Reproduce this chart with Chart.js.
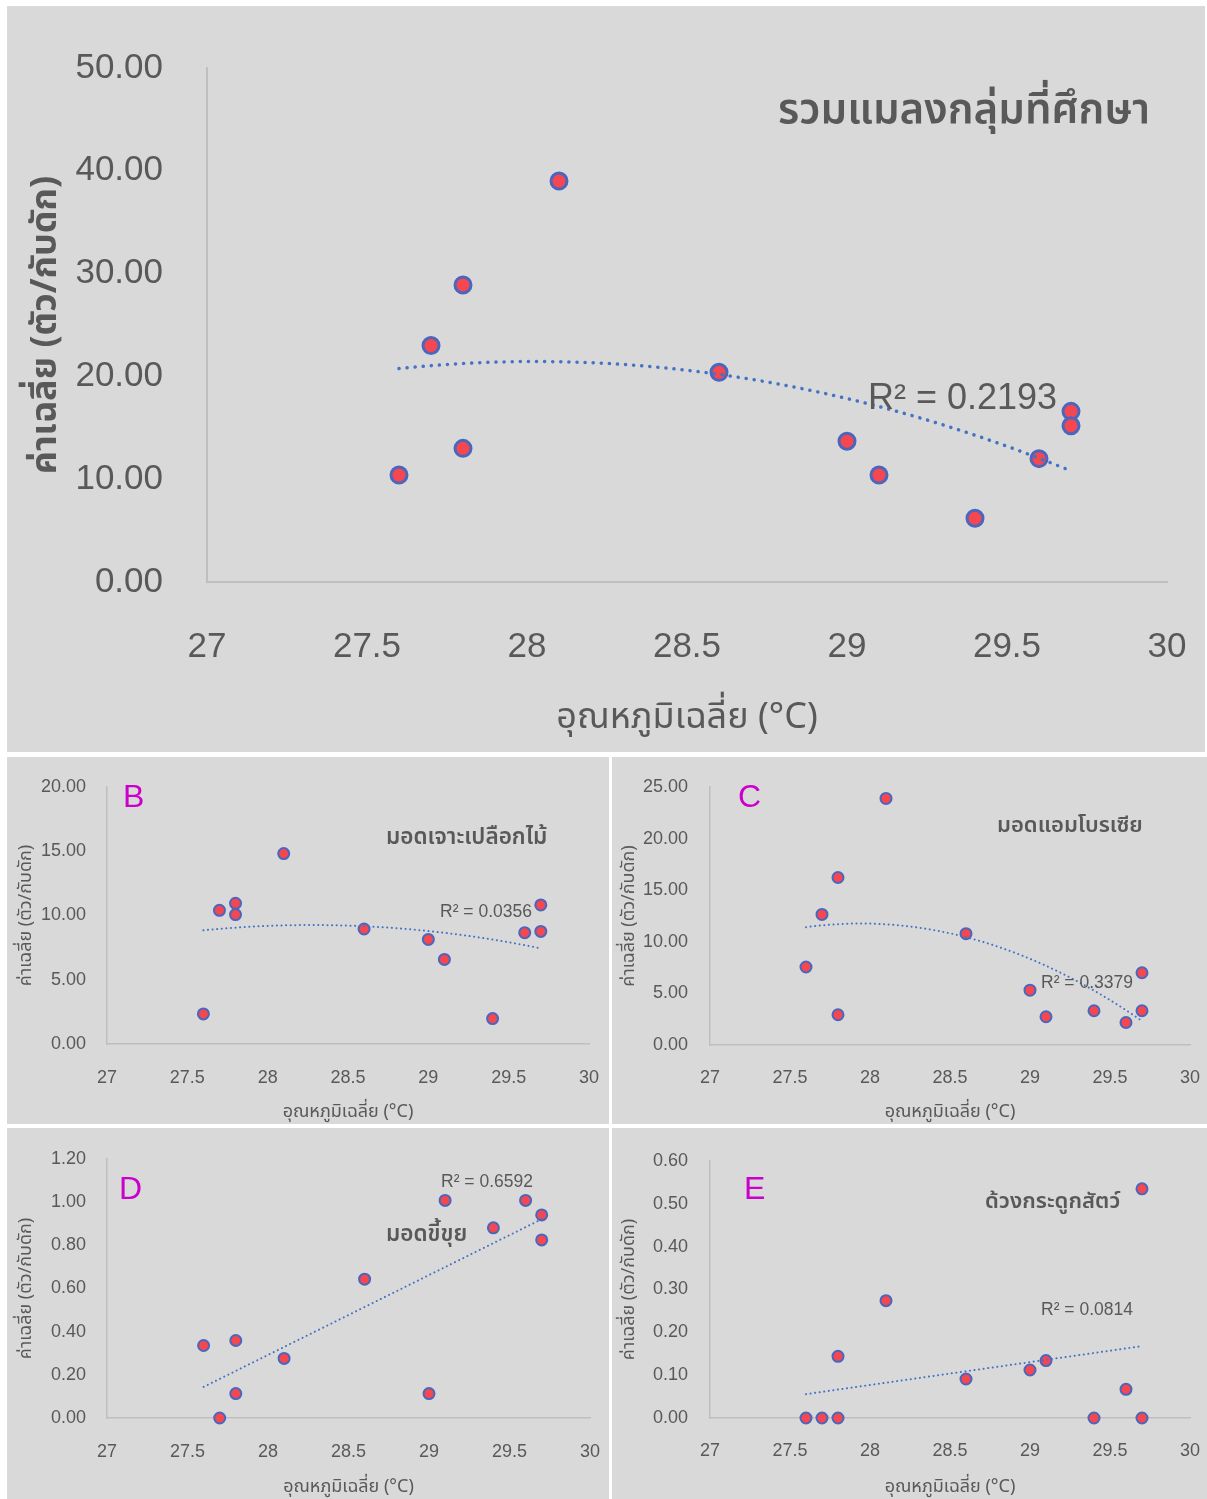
<!DOCTYPE html>
<html><head><meta charset="utf-8">
<script src="https://cdn.jsdelivr.net/npm/chart.js@4.4.1/dist/chart.umd.min.js"></script>
<style>
html,body{margin:0;padding:0;background:#fff;}
body{width:1207px;height:1499px;position:relative;overflow:hidden;}
.panel{position:absolute;background:#d9d9d9;}
.panel canvas{position:absolute;left:0;top:0;}
.txt{position:absolute;white-space:nowrap;color:#595959;line-height:1;font-family:"Noto Sans Thai","Loma","Garuda","Noto Sans",sans-serif;}
</style></head>
<body>
<script>
// ---------- data ----------
const temperature = [27.6, 27.7, 27.8, 27.8, 28.1, 28.6, 29.0, 29.1, 29.4, 29.6, 29.7, 29.7];
const totalInsects = [10.4, 23.0, 28.9, 13.0, 39.0, 20.4, 13.7, 10.4, 6.2, 12.0, 16.6, 15.2];
const barkBeetle = [2.34, 10.4, 10.95, 10.07, 14.82, 8.95, 8.14, 6.58, 1.98, 8.66, 10.82, 8.76];
const ambrosiaBeetle = [7.56, 12.65, 16.23, 2.93, 23.89, 10.79, 5.31, 2.74, 3.32, 2.18, 7.0, 3.32];
const powderpostBeetle = [0.336, 0.0, 0.359, 0.113, 0.276, 0.643, 0.113, 1.008, 0.881, 1.008, 0.941, 0.825];
const hideBeetle = [0.0, 0.0, 0.144, 0.0, 0.274, 0.091, 0.112, 0.134, 0.0, 0.067, 0.535, 0.0];

const xTicks = [27, 27.5, 28, 28.5, 29, 29.5, 30];
const yTicksA = [0, 10, 20, 30, 40, 50];
const yTicksB = [0, 5, 10, 15, 20];
const yTicksC = [0, 5, 10, 15, 20, 25];
const yTicksD = [0, 0.2, 0.4, 0.6, 0.8, 1.0, 1.2];
const yTicksE = [0, 0.1, 0.2, 0.3, 0.4, 0.5, 0.6];

const xTitle = 'อุณหภูมิเฉลี่ย (°C)';
const yTitle = 'ค่าเฉลี่ย (ตัว/กับดัก)';
const seriesNames = ['รวมแมลงกลุ่มที่ศึกษา', 'มอดเจาะเปลือกไม้', 'มอดแอมโบรเซีย', 'มอดขี้ขุย', 'ด้วงกระดูกสัตว์'];
const panelLetters = ['', 'B', 'C', 'D', 'E'];
const r2Labels = ['R² = 0.2193', 'R² = 0.0356', 'R² = 0.3379', 'R² = 0.6592', 'R² = 0.0814'];
const trendOrder = [2, 2, 2, 1, 1];

// ---------- helpers ----------
function polyFit(xs, ys, deg) {
  const n = deg + 1, c0 = 28.5;
  const A = Array.from({length: n}, () => Array(n + 1).fill(0));
  for (let k = 0; k < xs.length; k++) {
    const x = xs[k] - c0;
    for (let i = 0; i < n; i++) {
      for (let j = 0; j < n; j++) A[i][j] += Math.pow(x, i + j);
      A[i][n] += ys[k] * Math.pow(x, i);
    }
  }
  for (let i = 0; i < n; i++) {
    let p = i;
    for (let r = i + 1; r < n; r++) if (Math.abs(A[r][i]) > Math.abs(A[p][i])) p = r;
    [A[i], A[p]] = [A[p], A[i]];
    for (let r = 0; r < n; r++) {
      if (r === i) continue;
      const f = A[r][i] / A[i][i];
      for (let c = i; c <= n; c++) A[r][c] -= f * A[i][c];
    }
  }
  const coef = A.map((row, i) => row[n] / row[i]);
  return x => coef.reduce((s, c, i) => s + c * Math.pow(x - c0, i), 0);
}

const TICK_FONT = "'Liberation Sans Narrow','Liberation Sans',sans-serif";
const THAI_FONT = "'Noto Sans Thai','Loma','Garuda','Noto Sans',sans-serif";

const layouts = [
  {box:[7,6,1198,746], plot:{left:200, right:38, top:62, xh:170}, tick:35, tickPadY:44, tickPadX:44, title:36, titlePadX:10, titlePadY:20, titleBold:false, yTitleBold:true, mr:8, mb:3, tw:3.5, dash:[0.1,8], axis:2,
   texts:[{i:'name', left:778, top:89, size:42, weight:600}, {i:'r2', left:868, top:379, size:36, weight:400}]},
  {box:[7,757,602,367], plot:{left:100, right:20, top:30, xh:80}, tick:18, tickPadY:21, tickPadX:23, title:18, titlePadX:0, titlePadY:10, titleBold:false, yTitleBold:false, mr:5.5, mb:2, tw:2, dash:[0.1,4.5], axis:1.5,
   texts:[{i:'letter', left:123, top:780, size:32}, {i:'name', left:386, top:826, size:22.5, weight:600}, {i:'r2', left:440, top:903, size:17.5}]},
  {box:[612,757,595,367], plot:{left:98, right:17, top:30, xh:79}, tick:18, tickPadY:22, tickPadX:22, title:18, titlePadX:0, titlePadY:8, titleBold:false, yTitleBold:false, mr:5.5, mb:2, tw:2, dash:[0.1,4.5], axis:1.5,
   texts:[{i:'letter', left:738, top:780, size:32}, {i:'name', left:997, top:815, size:22, weight:600}, {i:'r2', left:1041, top:974, size:17.5}]},
  {box:[7,1128,602,371], plot:{left:100, right:19, top:31, xh:81}, tick:18, tickPadY:21, tickPadX:23, title:18, titlePadX:0, titlePadY:10, titleBold:false, yTitleBold:false, mr:5.5, mb:2, tw:2, dash:[0.1,4.5], axis:1.5,
   texts:[{i:'letter', left:119, top:1172, size:32}, {i:'name', left:386, top:1223, size:22.5, weight:600}, {i:'r2', left:441, top:1173, size:17.5}]},
  {box:[612,1128,595,371], plot:{left:98, right:17, top:33, xh:81}, tick:18, tickPadY:22, tickPadX:22, title:18, titlePadX:0, titlePadY:8, titleBold:false, yTitleBold:false, mr:5.5, mb:2, tw:2, dash:[0.1,4.5], axis:1.5,
   texts:[{i:'letter', left:744, top:1172, size:32}, {i:'name', left:985, top:1191, size:22, weight:600}, {i:'r2', left:1041, top:1301, size:17.5}]}
];

const seriesList = [totalInsects, barkBeetle, ambrosiaBeetle, powderpostBeetle, hideBeetle];
const yTickList = [yTicksA, yTicksB, yTicksC, yTicksD, yTicksE];

layouts.forEach((L, idx) => {
  const [bx, by, bw, bh] = L.box;
  const div = document.createElement('div');
  div.className = 'panel';
  div.style.cssText = `left:${bx}px;top:${by}px;width:${bw}px;height:${bh}px;`;
  const cv = document.createElement('canvas');
  cv.width = bw; cv.height = bh;
  cv.style.width = bw + 'px'; cv.style.height = bh + 'px';
  div.appendChild(cv);
  document.body.appendChild(div);

  const ys = seriesList[idx];
  const yt = yTickList[idx];
  const pts = temperature.map((x, i) => ({x, y: ys[i]}));
  const f = polyFit(temperature, ys, trendOrder[idx]);
  const xmin = Math.min(...temperature), xmax = Math.max(...temperature);
  const trend = [];
  for (let k = 0; k <= 80; k++) { const x = xmin + (xmax - xmin) * k / 80; trend.push({x, y: f(x)}); }

  new Chart(cv, {
    type: 'scatter',
    data: {datasets: [
      {type:'line', data: trend, order: 0, showLine: true, pointRadius: 0, borderColor: '#4472c4', borderWidth: L.tw,
       borderDash: L.dash, borderCapStyle: 'round', fill: false, tension: 0, clip: false},
      {data: pts, order: 1, pointRadius: L.mr, pointHoverRadius: L.mr, backgroundColor: '#f5474f', borderColor: '#4a66bd', pointBorderWidth: L.mb, borderWidth: L.mb, clip: false}
    ]},
    options: {
      responsive: false, animation: false, devicePixelRatio: 1,
      events: [],
      layout: {padding: {left: 0, right: L.plot.right, top: L.plot.top, bottom: 0}},
      plugins: {legend: {display: false}, tooltip: {enabled: false}},
      scales: {
        x: {type: 'linear', min: 27, max: 30,
            afterBuildTicks: s => { s.ticks = xTicks.map(v => ({value: v})); },
            afterFit: s => { s.height = L.plot.xh; s.paddingLeft = 0; s.paddingRight = 0; },
            grid: {display: false, drawTicks: false},
            border: {display: true, color: '#bfbfbf', width: L.axis},
            ticks: {padding: L.tickPadX, color: '#595959', font: {family: TICK_FONT, size: L.tick}, callback: v => String(v), maxRotation: 0, autoSkip: false},
            title: {display: true, text: xTitle, color: '#595959', padding: {top: 0, bottom: L.titlePadX}, font: {family: THAI_FONT, size: L.title, weight: L.titleBold ? 'bold' : 'normal'}}
        },
        y: {type: 'linear', min: yt[0], max: yt[yt.length - 1],
            afterBuildTicks: s => { s.ticks = yt.map(v => ({value: v})); },
            afterFit: s => { s.width = L.plot.left; s.paddingTop = 0; s.paddingBottom = 0; },
            grid: {display: false, drawTicks: false},
            border: {display: true, color: '#bfbfbf', width: L.axis},
            ticks: {padding: L.tickPadY, color: '#595959', font: {family: TICK_FONT, size: L.tick}, callback: v => Number(v).toFixed(2), autoSkip: false},
            title: {display: true, text: yTitle, color: '#595959', padding: {top: L.titlePadY, bottom: 0}, font: {family: THAI_FONT, size: L.title, weight: L.yTitleBold ? 'bold' : 'normal'}}
        }
      }
    }
  });

  L.texts.forEach(t => {
    const d = document.createElement('div');
    d.className = 'txt';
    let s = t.i === 'name' ? seriesNames[idx] : t.i === 'r2' ? r2Labels[idx] : panelLetters[idx];
    d.textContent = s;
    d.style.left = t.left + 'px';
    d.style.top = t.top + 'px';
    d.style.fontSize = t.size + 'px';
    if (t.weight) d.style.fontWeight = t.weight;
    if (t.i === 'letter') { d.style.color = '#cc00cc'; d.style.fontFamily = TICK_FONT; }
    if (t.i === 'r2') { d.style.fontFamily = TICK_FONT; }
    document.body.appendChild(d);
  });
});
</script>
</body></html>
